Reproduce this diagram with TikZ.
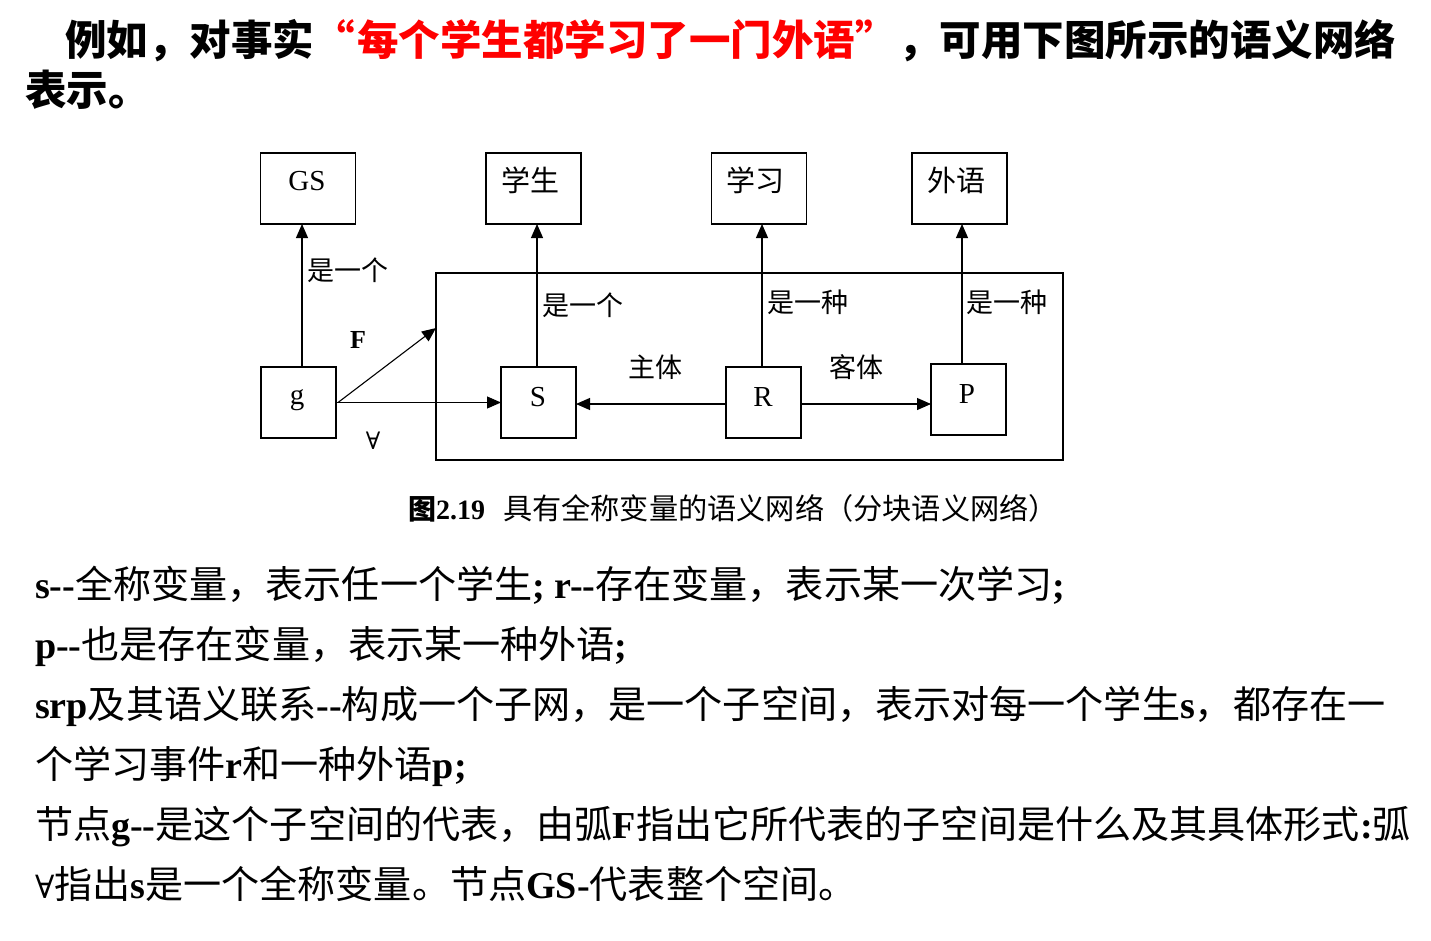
\documentclass[tikz,border=0pt]{standalone}
\usepackage{fontspec}
\setmainfont{Noto Sans CJK SC}
\newfontfamily\tnr{Liberation Serif}
\newfontfamily\dvs{DejaVu Serif}
\usetikzlibrary{arrows.meta}
\newcommand\B[1]{{\tnr\bfseries #1}}
\newcommand\T[1]{{\tnr #1}}
\newcommand\fa{{\dvs ∀}}
\definecolor{titlered}{RGB}{255,0,0}
\begin{document}
\begin{tikzpicture}[x=1pt,y=-1pt,
  every node/.style={inner sep=0pt, outer sep=0pt},
  topbox/.style={draw, line width=1.1pt, minimum width=95pt, minimum height=71pt},
  smallbox/.style={draw, line width=1.1pt, minimum width=75pt, minimum height=71pt},
  arr/.style={line width=1.1pt, -{Triangle[length=14pt,width=12pt]}},
  title/.style={anchor=base west, font=\fontsize{41.5}{41.5}\selectfont\bfseries},
  body/.style={anchor=base west, font=\fontsize{38.1}{38.1}\selectfont},
  lbl/.style={font=\fontsize{27}{27}\selectfont},
  inbox/.style={font=\fontsize{29}{29}\selectfont}]
\path[use as bounding box] (0,0) rectangle (1431,940);

% title
\node[title] (t1) at (65,55.5) {例如，对事实};
\node[title, anchor=base east, text=titlered] (t2) at (355,55.5) {“};
\node[title, text=titlered] (t3) at (357,55.5) {每个学生都学习了一门外语};
\node[title, text=titlered] (t4) at (855,55.5) {”};
\node[title] (t5) at (898,55.5) {，可用下图所示的语义网络};
\node[title] (t6) at (25,105) {表示。};

% diagram boxes
\node[topbox] (gs) at (308,188.5) {};
\node[inbox] (gsl) at (307,181) {\T{GS}};
\node[topbox] (xs) at (533.5,188.5) {};
\node[inbox] (xsl) at (530,180) {学生};
\node[topbox] (xx) at (759,188.5) {};
\node[inbox] (xxl) at (755,180) {学习};
\node[topbox] (wy) at (959.5,188.5) {};
\node[inbox] (wyl) at (956,180) {外语};
\node[draw, line width=1.1pt, minimum width=627pt, minimum height=187pt] (sub) at (749.5,366.5) {};
\node[smallbox] (g) at (298.5,402.5) {};
\node[inbox] (gl) at (297,400) {\T{g}};
\node[smallbox] (s) at (538.5,402.5) {};
\node[inbox] (sl) at (538,397) {\T{S}};
\node[smallbox] (r) at (763.5,402.5) {};
\node[inbox] (rl) at (763,397) {\T{R}};
\node[smallbox] (p) at (968.5,399.5) {};
\node[inbox] (pl) at (967,394) {\T{P}};

% connectors
\draw[arr] ([xshift=3.5]g.north) -- ([xshift=3.5]g.north |- gs.south);
\draw[arr] ([xshift=-1.5]s.north) -- ([xshift=-1.5]s.north |- xs.south);
\draw[arr] ([xshift=-1.5]r.north) -- ([xshift=-1.5]r.north |- xx.south);
\draw[arr] ([xshift=-6.5]p.north) -- ([xshift=-6.5]p.north |- wy.south);
\draw[arr] ([xshift=2]g.east) -- ([yshift=38.5]sub.west);
\draw[arr] (g.east) -- (s.west);
\draw[arr] ([yshift=-1.5]r.west) -- ([yshift=-1.5]r.west -| s.east);
\draw[arr] ([yshift=-1.5]r.east) -- ([yshift=-1.5]r.east -| p.west);

% connector labels
\node[lbl] (l1) at (348,270) {是一个};
\node[lbl] (l2) at (583,305) {是一个};
\node[lbl] (l3) at (808,302) {是一种};
\node[lbl] (l4) at (1007,302) {是一种};
\node[lbl] (l5) at (655,367) {主体};
\node[lbl] (l6) at (856,367) {客体};
\node[font=\fontsize{26}{26}\selectfont] (lf) at (358,340) {\B{F}};
\node[font=\fontsize{24}{24}\selectfont] (la) at (373,441) {\fa};

% caption
\node[anchor=base west, font=\fontsize{28}{28}\selectfont] (cap1) at (408,519.5)
  {{\bfseries 图}\B{2.19}};
\node[anchor=base west, font=\fontsize{29.2}{29.2}\selectfont] (cap2) at (503,519.5)
  {具有全称变量的语义网络（分块语义网络）};

% body text
\node[body] (b1) at (35,598) {\B{s-{}-}全称变量，表示任一个学生\B{; r-{}-}存在变量，表示某一次学习\B{;}};
\node[body] (b2) at (35,658) {\B{p-{}-}也是存在变量，表示某一种外语\B{;}};
\node[body] (b3) at (35,718) {\B{srp}及其语义联系\B{-{}-}构成一个子网，是一个子空间，表示对每一个学生\B{s}，都存在一};
\node[body] (b4) at (35,778) {个学习事件\B{r}和一种外语\B{p;}};
\node[body] (b5) at (35,838) {节点\B{g-{}-}是这个子空间的代表，由弧\B{F}指出它所代表的子空间是什么及其具体形式\B{:}弧};
\node[body] (b6) at (35,898) {{\fontsize{32}{32}\selectfont\fa}指出\B{s}是一个全称变量。节点\B{GS-}代表整个空间。};
\end{tikzpicture}
\end{document}
